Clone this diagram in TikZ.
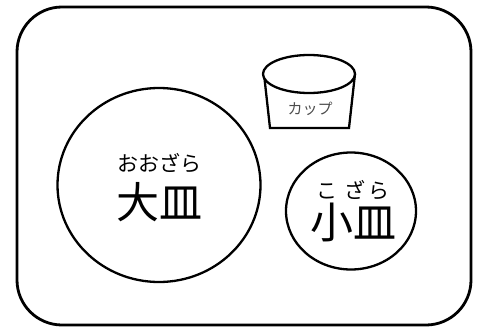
\documentclass[tikz,border=0pt]{standalone}
\usepackage{fontspec}
\usetikzlibrary{shapes.geometric}
\newfontfamily\jp{Noto Sans CJK JP}
\tikzset{
  rim/.style={line width=2.8pt,black},
  edge/.style={line width=2.3pt,black},
  kana/.style={font=\jp\fontsize{21}{21}\selectfont},
  kanji/.style={font=\jp\fontsize{43}{43}\selectfont}
}
\begin{document}
\begin{tikzpicture}[x=1pt,y=-1pt]
        \useasboundingbox (0,0) rectangle (481,329);
        \fill[white] (0,0) rectangle (481,329);

        \draw[rim,rounded corners=45pt] (17,7) rectangle (471,325);

        % large plate
        \node[draw,edge,ellipse,minimum width=203pt,minimum height=194pt,inner sep=0pt](oozara)at(159,185){};
        \node[kana](oozaraYomi)at(159,163){おおざら};
        \node[kanji](oozaraKanji)at(159,202){大皿};

        % small plate
        \node[draw,edge,ellipse,minimum width=130pt,minimum height=117pt,inner sep=0pt](kozara)at(351,211){};
        \node[kana](kozaraYomi)at(353,190){こ\hspace{7pt}ざ\hspace{3pt}ら};
        \node[kanji](kozaraKanji)at(353,222){小皿};

        % cup
        \draw[edge,fill=white] (264,74)--(270,128)--(349,128)--(355,74);
        \draw[edge,fill=white] (309,74) ellipse [x radius=46,y radius=19];
        \node[font=\jp\fontsize{15}{15}\selectfont,text=black!70](kappu)at(310,109){カップ};
    \end{tikzpicture}
\end{document}
